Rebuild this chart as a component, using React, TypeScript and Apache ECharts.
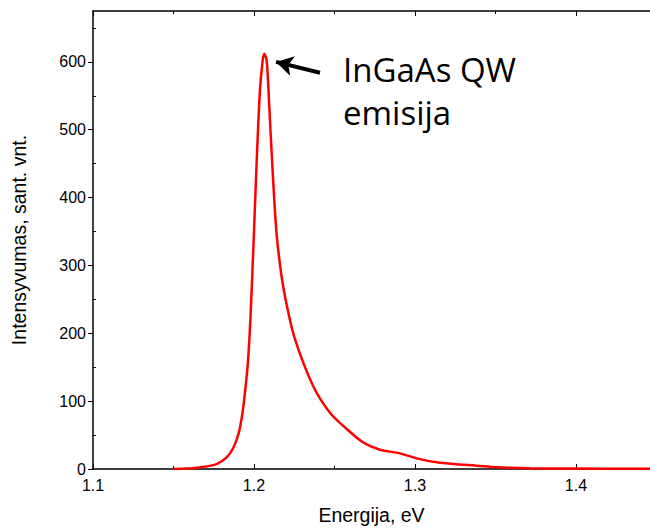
import React, { useEffect, useRef } from "react";
import * as echarts from "echarts";

// Photoluminescence spectrum (energy in eV, intensity in arb. units)
const energy = [
  1.15, 1.158, 1.1665, 1.1768, 1.183, 1.1871, 1.1903, 1.1923, 1.1938, 1.1955,
  1.1965, 1.1978, 1.1996, 1.2017, 1.2037, 1.2054, 1.2064, 1.2079, 1.2095, 1.2116,
  1.2141, 1.2172, 1.2203, 1.2255, 1.2368, 1.2472, 1.2576, 1.2679, 1.2783, 1.2907,
  1.301, 1.3135, 1.3259, 1.3383, 1.3507, 1.3714, 1.4, 1.446,
];
const intensity = [
  0, 0.6, 2.4, 7.3, 17, 31, 51, 74, 100, 138,
  166, 222, 325, 455, 558, 602, 612, 602, 534, 438,
  345, 283, 242, 191, 122, 83, 59, 39, 28.4, 23,
  15.7, 9.8, 6.9, 4.9, 2.4, 1, 0.6, 0.4,
];
const xTicks = [1.1, 1.2, 1.3, 1.4];
const yTicks = [0, 100, 200, 300, 400, 500, 600];
const arrowFrom = [1.241, 584];
const arrowTo = [1.2137, 600];
const annotation = ["InGaAs QW", "emisija"];

export default function App() {
  const ref = useRef<HTMLDivElement>(null);
  useEffect(() => {
    if (!ref.current) return;
    const chart = echarts.init(ref.current, null, { renderer: "svg" });
    const font = "'Liberation Sans', Arial, sans-serif";
    const data = energy.map((e, i) => [e, intensity[i]]);
    const xMin = xTicks[0];
    const xInt = xTicks[1] - xTicks[0];
    const yInt = yTicks[1] - yTicks[0];
    const xMax = 1.446;
    const yMax = 675;
    chart.setOption({
      animation: false,
      backgroundColor: "#fff",
      grid: { left: 93, right: 0, top: 11, bottom: 60, containLabel: false },
      xAxis: [
        {
          type: "value",
          min: xMin,
          max: xMax,
          interval: xInt,
          name: "Energija, eV",
          nameLocation: "middle",
          nameGap: 36,
          nameTextStyle: { fontFamily: font, fontSize: 19.5, color: "#000" },
          axisLine: { show: true, onZero: false, lineStyle: { color: "#000", width: 1.5 } },
          axisTick: { show: true, inside: true, length: 5, lineStyle: { color: "#000", width: 1 } },
          minorTick: { show: true, splitNumber: 2, length: 3, lineStyle: { color: "#000", width: 1 } },
          splitLine: { show: false },
          axisLabel: {
            showMaxLabel: false,
            margin: 8,
            fontFamily: font,
            fontSize: 16,
            color: "#000",
            formatter: (v: number) => v.toFixed(1),
          },
        },
        {
          type: "value",
          position: "top",
          min: xMin,
          max: xMax,
          interval: xInt,
          axisLine: { show: true, onZero: false, lineStyle: { color: "#000", width: 1.5 } },
          axisTick: { show: true, inside: true, length: 5, lineStyle: { color: "#000", width: 1 } },
          minorTick: { show: true, splitNumber: 2, length: 3, lineStyle: { color: "#000", width: 1 } },
          splitLine: { show: false },
          axisLabel: { show: false },
        },
      ],
      yAxis: [
        {
          type: "value",
          min: 0,
          max: yMax,
          interval: yInt,
          name: "Intensyvumas, sant. vnt.",
          nameLocation: "middle",
          nameGap: 64,
          nameTextStyle: { fontFamily: font, fontSize: 19.5, color: "#000" },
          axisLine: { show: true, onZero: false, lineStyle: { color: "#000", width: 1.5 } },
          axisTick: { show: true, inside: false, length: 5, lineStyle: { color: "#000", width: 1 } },
          splitLine: { show: false },
          axisLabel: {
            showMaxLabel: false,
            margin: 7,
            fontFamily: font,
            fontSize: 16,
            color: "#000",
          },
        },
        {
          type: "value",
          position: "left",
          min: 0,
          max: yMax,
          interval: yInt,
          axisLine: { show: false, onZero: false },
          axisTick: { show: false, inside: true },
          minorTick: { show: true, splitNumber: 2, length: 3, lineStyle: { color: "#000", width: 1 } },
          splitLine: { show: false },
          axisLabel: { show: false },
        },
      ],
      series: [
        {
          type: "line",
          data,
          xAxisIndex: 0,
          yAxisIndex: 0,
          showSymbol: false,
          smooth: 0.3,
          lineStyle: { color: "#ff0000", width: 2.5 },
          silent: true,
          markLine: {
            silent: true,
            symbol: ["none", "arrow"],
            symbolSize: [15, 17],
            label: { show: false },
            lineStyle: { color: "#000", width: 4, type: "solid" },
            data: [[{ coord: arrowFrom }, { coord: arrowTo }]],
          },
        },
      ],
      graphic: [
        {
          type: "text",
          left: 343,
          top: 48,
          style: {
            text: annotation.join("\n"),
            fontFamily: "'Open Sans', sans-serif",
            fontSize: 33,
            lineHeight: 43,
            fill: "#000",
          },
        },
      ],
    });
    return () => chart.dispose();
  }, []);
  return (
    <div
      ref={ref}
      style={{ position: "absolute", left: 0, top: 0, width: 650, height: 530, background: "#fff" }}
    />
  );
}
